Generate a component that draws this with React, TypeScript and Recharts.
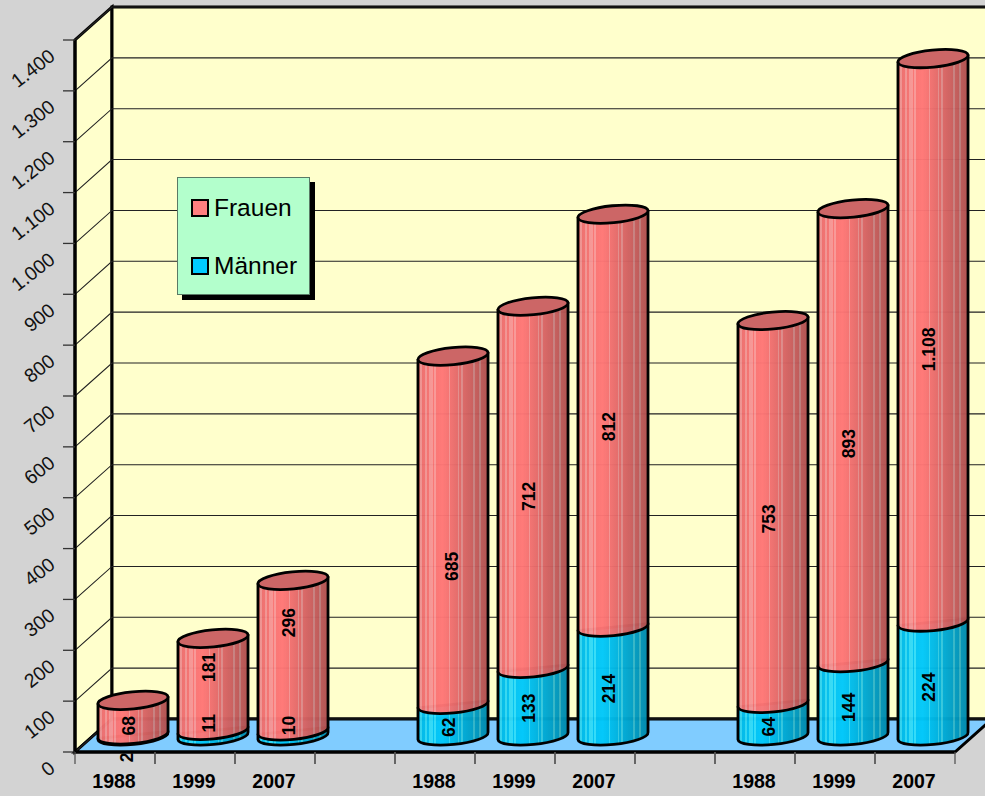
import React from 'react';
import { BarChart, Bar, XAxis, YAxis, CartesianGrid, Legend, LabelList } from 'recharts';

// ---- data
const years = ['1988', '1999', '2007', '', '1988', '1999', '2007', '', '1988', '1999', '2007'];
const maenner = [2, 11, 10, null, 62, 133, 214, null, 64, 144, 224];
const frauen = [68, 181, 296, null, 685, 712, 812, null, 753, 893, 1108];
const yTicks = [0, 100, 200, 300, 400, 500, 600, 700, 800, 900, 1000, 1100, 1200, 1300, 1400];
const rows = years.map((year, i) => ({ year, Männer: maenner[i], Frauen: frauen[i] }));

// ---- style
const W = 985, H = 796;
const LEFT = 75, TOP = 40, RIGHT = 30, BOTTOM = 44;
const DX = 37, DY = -33;           // depth of the 3D box
const BAR_DX = 18, BAR_DY = -16;   // bars stand mid-floor
const FONT = '"Liberation Sans", Arial, sans-serif';
const TILT = 5.7;
const TILT_RAD = (TILT * Math.PI) / 180;
const RY = 8.5;
// hand-placed data labels of the original, relative to segment centre
const nudgeF = [8, -17, -33, 0, 36, 9, 6, 0, 7, 8, 9];
const nudgeM = [22, -10, -8, 0, 7, 6, 7, 0, 7, 8, 8];
const nudgeFx = [0, 0, 0, 0, 3, 0, 0, 0, 0, 0, 0];
const nudgeMx = [-2, 0, 0, 0, 0, 0, 0, 0, 0, 0, 0];

// cylinder shading: light stripes over a left-to-right shade
const stripes = [.04, .11, .17, .2, .24, .45, .58, .63, .8, .89];
function Stops({ rgb, lift }: { rgb: number[]; lift: number[] }) {
  const n = 70;
  const out: React.ReactNode[] = [];
  for (let i = 0; i < n; i++) {
    const f = (i + .5) / n;
    const shade = f < .35 ? .92 + (.08 * f) / .35 : 1 - (.32 * (f - .35)) / .65;
    const striped = stripes.some(s => Math.abs(s - f) < .012);
    const c = rgb.map((v, k) => Math.round(Math.min(255, v * shade + (striped ? lift[k] : 0))));
    const col = `rgb(${c.join(',')})`;
    out.push(<stop key={i + 'a'} offset={i / n} stopColor={col} />);
    out.push(<stop key={i + 'b'} offset={(i + 1) / n} stopColor={col} />);
  }
  return <>{out}</>;
}

function Cylinder(props: any) {
  const { x, y, width, height, fill, topFill, payload } = props;
  if (x == null || !payload || payload.year === '') return null;
  const rx = width / 2 + 0.2;
  const cx = x + width / 2 + BAR_DX;
  const sx = rx * Math.cos(TILT_RAD), sy = rx * Math.sin(TILT_RAD);
  const yt = y + BAR_DY, yb = y + height + BAR_DY;
  const rot = -TILT;
  const body = `M${cx - sx},${yt + sy} L${cx - sx},${yb + sy} A${rx},${RY} ${rot} 0 0 ${cx + sx},${yb - sy} L${cx + sx},${yt - sy} Z`;
  return (
    <g>
      <path d={body} fill={fill} fillOpacity={0.97} stroke="#000" strokeWidth={2.8} strokeLinejoin="round" />
      {topFill ? <ellipse cx={cx} cy={yt} rx={rx} ry={RY} transform={`rotate(${rot} ${cx} ${yt})`} fill={topFill} stroke="#000" strokeWidth={2.8} /> : null}
    </g>
  );
}

const makeLabel = (nudge: number[], nudgeX: number[]) => (props: any) => {
  const { x, y, width, height, value, index } = props;
  if (value == null) return null;
  const cx = x + width / 2 + BAR_DX - 4 + nudgeX[index];
  const cy = y + height / 2 + BAR_DY + nudge[index];
  const txt = Number(value).toLocaleString('de-DE');
  return (
    <text x={cx} y={cy} transform={`rotate(-90 ${cx} ${cy})`} textAnchor="middle" dominantBaseline="central"
      fontFamily={FONT} fontWeight="bold" fontSize={17.5} fill="#000">{txt}</text>
  );
};

function YTick(props: any) {
  const { x, y, payload } = props;
  const ax = x + 8;
  const tx = ax - 23, ty = y + 13;
  return (
    <g>
      <line x1={ax - 12} x2={ax} y1={y} y2={y} stroke="#333" strokeWidth={1.3} />
      <text x={tx} y={ty} transform={`rotate(-38 ${tx} ${ty})`} textAnchor="end" dominantBaseline="central"
        fontFamily={FONT} fontSize={19.5} fill="#111">{Number(payload.value).toLocaleString('de-DE')}</text>
    </g>
  );
}

function XTick(props: any) {
  const { x, y, payload } = props;
  const half = (W - LEFT - RIGHT) / years.length / 2;
  const ay = y - 8;
  return (
    <g>
      <line x1={x - half} x2={x - half} y1={ay} y2={ay + 12} stroke="#555" strokeWidth={1.3} />
      <line x1={x + half} x2={x + half} y1={ay} y2={ay + 12} stroke="#555" strokeWidth={1.3} />
      <text x={x - 1} y={ay + 29} textAnchor="middle" dominantBaseline="central" fontFamily={FONT} fontWeight="bold" fontSize={19.5} fill="#000">{payload.value}</text>
    </g>
  );
}

function gridLine(props: any) {
  const { x1, x2, y1, key } = props;
  return (
    <polyline key={key ?? y1} points={`${x1},${y1} ${x1 + DX},${y1 + DY} ${x2 + DX},${y1 + DY}`} fill="none" stroke="#222" strokeWidth={1.1} />
  );
}

function LegendBox({ payload }: any) {
  const items = [...(payload || [])];
  return (
    <div style={{ width: 133, height: 118, boxSizing: 'border-box', background: '#b3ffcc', border: '1px solid #5a7a66', boxShadow: '5px 5px 0 #000', position: 'relative', fontFamily: FONT, fontSize: 24.5, color: '#000' }}>
      {items.map((it: any, i: number) => (
        <div key={it.value} style={{ position: 'absolute', left: 13, top: i === 0 ? 20 : 78, display: 'flex', alignItems: 'center', height: 20 }}>
          <span style={{ display: 'inline-block', width: 18, height: 18, boxSizing: 'border-box', border: '2px solid #000', background: it.value === 'Frauen' ? '#ff8080' : '#00ccff', marginRight: 5 }} />
          <span>{it.value}</span>
        </div>
      ))}
    </div>
  );
}

export default function App() {
  const x0 = LEFT, y0 = H - BOTTOM, x1 = W - RIGHT, yTop = TOP;
  return (
    <div style={{ position: 'absolute', left: 0, top: 0, width: W, height: H, background: '#d3d3d3', overflow: 'hidden' }}>
      <svg width={W} height={H} style={{ position: 'absolute', left: 0, top: 0 }}>
        <polygon points={`${x0},${y0} ${x0 + DX},${y0 + DY} ${x0 + DX},${yTop + DY} ${x0},${yTop}`} fill="#ffffcc" stroke="#000" strokeWidth={3} />
        <rect x={x0 + DX} y={yTop + DY} width={x1 - x0} height={y0 - yTop} fill="#ffffcc" stroke="#000" strokeWidth={3} />
        <polygon points={`${x0},${y0} ${x1},${y0} ${x1 + DX},${y0 + DY} ${x0 + DX},${y0 + DY}`} fill="#80ccff" stroke="#000" strokeWidth={3} />
      </svg>
      <div style={{ position: 'absolute', left: 0, top: 0 }}>
        <BarChart width={W} height={H} data={rows} margin={{ left: 0, top: TOP, right: RIGHT, bottom: 0 }} barSize={70}>
          <defs>
            <linearGradient id="gradF" x1="0" x2="1" y1="0" y2="0"><Stops rgb={[255, 118, 118]} lift={[0, 35, 35]} /></linearGradient>
            <linearGradient id="gradM" x1="0" x2="1" y1="0" y2="0"><Stops rgb={[0, 200, 250]} lift={[50, 25, 5]} /></linearGradient>
          </defs>
          <CartesianGrid vertical={false} horizontal={gridLine as any} />
          <XAxis dataKey="year" interval={0} tickLine={false} height={BOTTOM} axisLine={{ stroke: '#000', strokeWidth: 3 }} tick={<XTick />} />
          <YAxis type="number" domain={[0, 1400]} ticks={yTicks} interval={0} width={LEFT} tickLine={false} axisLine={{ stroke: '#000', strokeWidth: 3 }} tick={<YTick />} />
          <Legend layout="vertical" align="center" verticalAlign="middle" content={<LegendBox />} wrapperStyle={{ position: 'absolute', left: 177, top: 177, width: 133, height: 118, margin: 0 }} />
          <Bar dataKey="Männer" stackId="a" isAnimationActive={false} shape={<Cylinder fill="url(#gradM)" />} fill="#00ccff">
            <LabelList dataKey="Männer" content={makeLabel(nudgeM, nudgeMx)} />
          </Bar>
          <Bar dataKey="Frauen" stackId="a" isAnimationActive={false} shape={<Cylinder fill="url(#gradF)" topFill="#cc6666" />} fill="#ff8080">
            <LabelList dataKey="Frauen" content={makeLabel(nudgeF, nudgeFx)} />
          </Bar>
        </BarChart>
      </div>
    </div>
  );
}
